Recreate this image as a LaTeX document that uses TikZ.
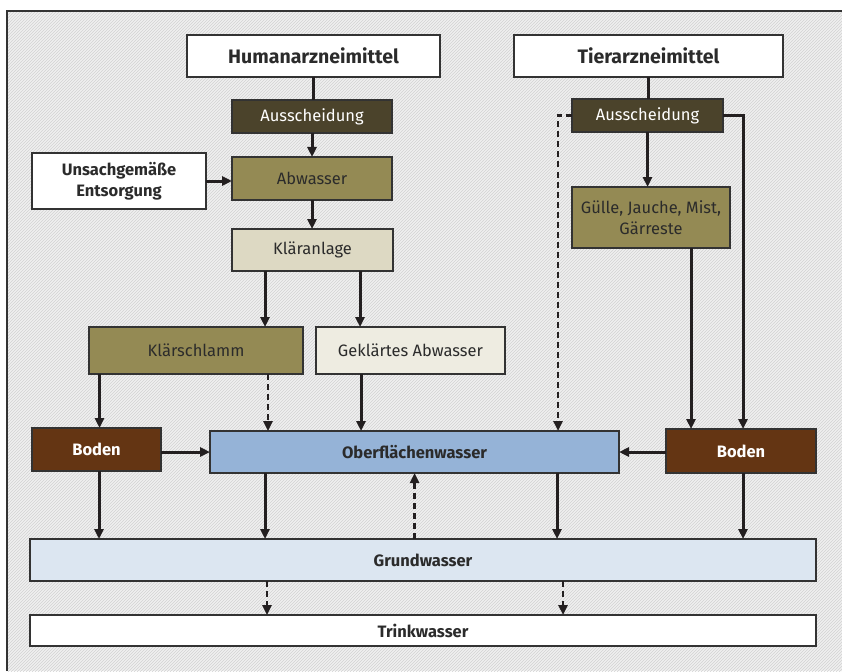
\documentclass[tikz,border=0pt]{standalone}
\usepackage{fontspec}
\setmainfont{Fira Sans}
\usetikzlibrary{arrows.meta, patterns}

\definecolor{dunkeloliv}{HTML}{4B432B}
\definecolor{oliv}{HTML}{948A54}
\definecolor{hellbeige}{HTML}{DDD9C3}
\definecolor{cremig}{HTML}{EEECE1}
\definecolor{erdbraun}{HTML}{643513}
\definecolor{blaumittel}{HTML}{95B3D7}
\definecolor{blauhell}{HTML}{DCE6F1}
\definecolor{rahmen}{HTML}{333333}
\definecolor{pfeil}{HTML}{231F20}
\definecolor{schrift}{HTML}{2B2B2B}

\begin{document}
\begin{tikzpicture}[x=1pt, y=-1pt,
    box/.style={draw=rahmen, line width=1.5pt, inner sep=0pt, outer sep=0pt, align=center, text=schrift, font=\fontsize{16.5}{21}\selectfont},
    bbox/.style={box, font=\bfseries\fontsize{16.5}{21}\selectfont},
    arr/.style={-{Triangle[length=10pt, width=9pt]}, line width=3pt, draw=pfeil},
    dasharr/.style={arr, line width=2.4pt, dash pattern=on 6pt off 4pt},
    link/.style={line width=3pt, draw=pfeil}]

    \useasboundingbox (0,0) rectangle (842,671);
    \fill[white] (0,0) rectangle (842,671);
    \fill[gray!12] (7,11) rectangle (842,671);
    \fill[pattern=north east lines, pattern color=gray!35] (7,11) rectangle (842,671);
    \draw[line width=2pt, rahmen] (7,671) -- (7,11) -- (842,11);

    % Quellen
    \node[bbox, font=\bfseries\fontsize{19.5}{23}\selectfont, fill=white, minimum width=253pt, minimum height=42pt] (human) at (313.5,56) {Humanarzneimittel};
    \node[bbox, font=\bfseries\fontsize{19.5}{23}\selectfont, fill=white, minimum width=269pt, minimum height=42pt] (tier) at (648.5,56) {Tierarzneimittel};

    % linker Pfad
    \node[box, fill=dunkeloliv, text=white, minimum width=160pt, minimum height=33pt] (aussL) at (312,116.5) {Ausscheidung};
    \node[bbox, fill=white, minimum width=174pt, minimum height=56pt] (entsorg) at (119,181) {Unsachgemäße\\Entsorgung};
    \node[box, fill=oliv, minimum width=160pt, minimum height=43pt] (abw) at (312,178.5) {Abwasser};
    \node[box, fill=hellbeige, minimum width=161pt, minimum height=42pt] (klaer) at (312.5,250) {Kläranlage};
    \node[box, fill=oliv, minimum width=214pt, minimum height=47pt] (schlamm) at (196,350.5) {Klärschlamm};
    \node[box, fill=cremig, minimum width=189pt, minimum height=47pt] (geklaert) at (410.5,350.5) {Geklärtes Abwasser};

    % rechter Pfad
    \node[box, fill=dunkeloliv, text=white, minimum width=151pt, minimum height=33pt] (aussR) at (647.5,115.5) {Ausscheidung};
    \node[box, fill=oliv, minimum width=158pt, minimum height=61pt] (guelle) at (651,217.5) {Gülle, Jauche, Mist,\\Gärreste};

    % Boden und Wasser
    \node[bbox, fill=erdbraun, text=white, minimum width=129pt, minimum height=43pt] (bodenL) at (96.5,449.5) {Boden};
    \node[bbox, fill=blaumittel, minimum width=409pt, minimum height=42pt] (ow) at (414.5,452) {Oberflächenwasser};
    \node[bbox, fill=erdbraun, text=white, minimum width=150pt, minimum height=44pt] (bodenR) at (741,451) {Boden};
    \node[bbox, fill=blauhell, minimum width=786pt, minimum height=42pt] (grund) at (423,560) {Grundwasser};
    \node[bbox, fill=white, minimum width=786pt, minimum height=31pt] (trink) at (423,630.5) {Trinkwasser};

    % Verbindungen links
    \draw[link] (human.south) -- (human.south |- aussL.north);
    \draw[arr] (aussL.south) -- (aussL.south |- abw.north);
    \draw[arr] (entsorg.east) -- (entsorg.east -| abw.west);
    \draw[arr] (abw.south) -- (abw.south |- klaer.north);
    \draw[arr] ([xshift=-47.5pt]klaer.south) -- ([xshift=-47.5pt]klaer.south |- schlamm.north);
    \draw[arr] ([xshift=47.5pt]klaer.south) -- ([xshift=47.5pt]klaer.south |- geklaert.north);
    \draw[arr] ([xshift=3pt]bodenL.north |- schlamm.south) -- ([xshift=3pt]bodenL.north);
    \draw[dasharr] ([xshift=72pt]schlamm.south) -- ([xshift=72pt]schlamm.south |- ow.north);
    \draw[arr] ([xshift=-49.5pt]geklaert.south) -- ([xshift=-49.5pt]geklaert.south |- ow.north);
    \draw[arr] (bodenL.east |- ow.west) -- (ow.west);

    % Verbindungen rechts
    \draw[link] (tier.south) -- (tier.south |- aussR.north);
    \draw[arr] (aussR.south) -- (aussR.south |- guelle.north);
    \draw[dasharr] (aussR.west) -| ([xshift=143.5pt]ow.north);
    \draw[arr] (aussR.east) -| ([xshift=2pt]bodenR.north);
    \draw[arr] ([xshift=40pt]guelle.south) -- ([xshift=40pt]guelle.south |- bodenR.north);
    \draw[arr] (bodenR.west |- ow.east) -- (ow.east);

    % ins Grundwasser
    \draw[arr] ([xshift=2.5pt]bodenL.south) -- ([xshift=2.5pt]bodenL.south |- grund.north);
    \draw[arr] ([xshift=-149.5pt]ow.south) -- ([xshift=-149.5pt]ow.south |- grund.north);
    \draw[dasharr] (ow.south |- grund.north) -- (ow.south);
    \draw[arr] ([xshift=142.5pt]ow.south) -- ([xshift=142.5pt]ow.south |- grund.north);
    \draw[arr] ([xshift=2pt]bodenR.south) -- ([xshift=2pt]bodenR.south |- grund.north);
    \draw[dasharr] ([xshift=-156pt]grund.south) -- ([xshift=-156pt]grund.south |- trink.north);
    \draw[dasharr] ([xshift=140pt]grund.south) -- ([xshift=140pt]grund.south |- trink.north);

\end{tikzpicture}
\end{document}
